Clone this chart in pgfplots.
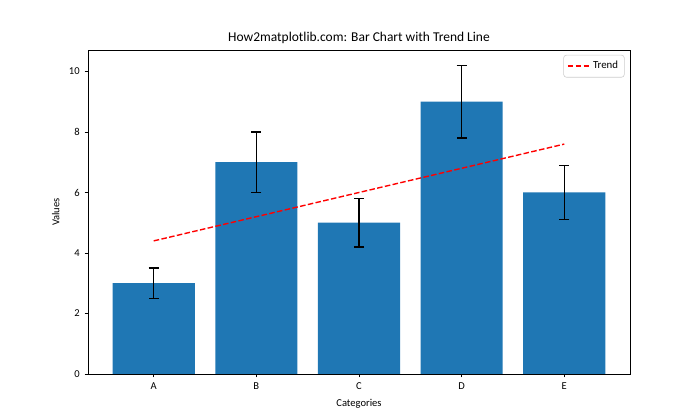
\documentclass[border=0pt]{standalone}
\usepackage{pgfplots}
\pgfplotsset{compat=1.18}
\usepackage{fontspec}
\setmainfont{Carlito}
\definecolor{mplblue}{HTML}{1F77B4}
\begin{document}
\begin{tikzpicture}
\useasboundingbox (-63.36pt,-33.12pt) rectangle (440.64pt,269.28pt);
\begin{axis}[
  at={(0pt,0pt)}, anchor=south west,
  scale only axis, width=390.24pt, height=233.28pt,
  xmin=-0.64, xmax=4.64, ymin=0, ymax=10.71,
  xtick={0,1,2,3,4}, xticklabels={A,B,C,D,E},
  ytick={0,2,4,6,8,10},
  tick align=outside, xtick pos=bottom, ytick pos=left,
  major tick length=2.5pt,
  tick style={black, line width=0.6pt},
  axis line style={line width=0.6pt},
  /pgf/number format/assume math mode=true,
  ticklabel style={font=\fontsize{7.6}{8}\selectfont},
  xlabel={Categories}, ylabel={Values},
  label style={font=\fontsize{7.6}{8}\selectfont},
  title={How2matplotlib.com: Bar Chart with Trend Line},
  title style={font=\fontsize{9.7}{10}\selectfont, yshift=-5pt},
  legend style={at={(0.99,0.985)}, anchor=north east, font=\fontsize{7.8}{8}\selectfont, draw=black!20, rounded corners=2pt, inner sep=2.5pt},
  legend cell align=left,
]
\addplot[ybar, bar width=0.8, fill=mplblue, draw=none, forget plot,
  error bars/.cd, y dir=both, y explicit,
  error bar style={black, line width=0.9pt},
  error mark options={rotate=90, mark size=3.6pt, black, line width=0.9pt}]
  table[x=x, y=y, y error=e] {
x y e
0 3 0.5
1 7 1.0
2 5 0.8
3 9 1.2
4 6 0.9
};
\addplot[red, line width=1pt, dash pattern=on 4pt off 1.7pt,
  legend image code/.code={\draw[red, line width=1pt, dash pattern=on 4pt off 1.7pt] (0cm,0cm) -- (0.55cm,0cm);}]
  coordinates {(0,4.4) (1,5.2) (2,6.0) (3,6.8) (4,7.6)};
\addlegendentry{Trend}
\end{axis}
\end{tikzpicture}
\end{document}
